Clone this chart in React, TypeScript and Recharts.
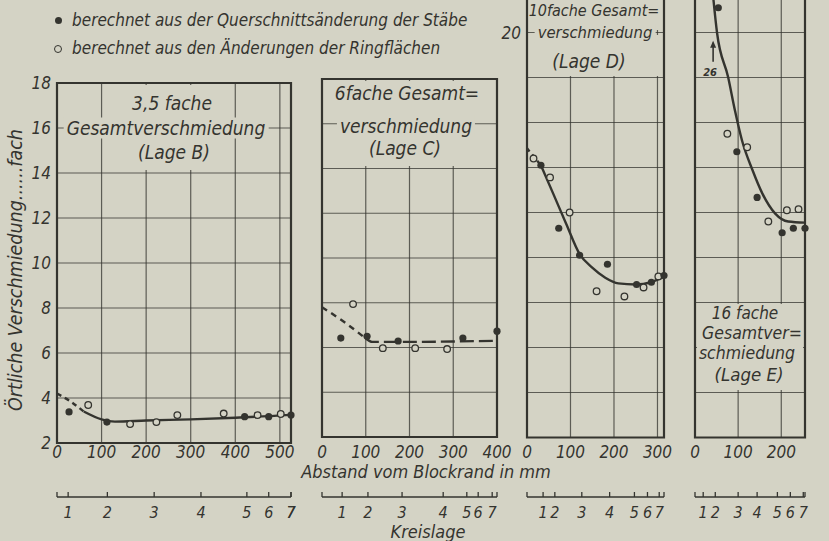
import React from "react";
import {
  CartesianGrid,
  ComposedChart,
  Line,
  ReferenceArea,
  ReferenceDot,
  ReferenceLine,
  Scatter,
  XAxis,
  YAxis,
} from "recharts";

type Pt = [number, number];

const BG = "#d4d3c5";
const INK = "#34342f";
const FONT = "'Liberation Sans Narrow', 'DejaVu Sans Condensed', sans-serif";

// Lage B – 3,5fache Gesamtverschmiedung (Abstand mm, Verschmiedung fach)
const bVoll: Pt[] = [[27, 3.38], [112, 2.93], [421, 3.17], [475, 3.17], [525, 3.24]];
const bOffen: Pt[] = [[70, 3.69], [164, 2.84], [223, 2.93], [270, 3.24], [374, 3.31], [450, 3.24], [502, 3.29]];
const bKurveAnfang: Pt[] = [[0, 4.2], [30, 3.85], [60, 3.4]];
const bKurve: Pt[] = [[60, 3.4], [100, 3.05], [130, 2.95], [200, 3.0], [300, 3.05], [400, 3.12], [525, 3.25]];
const bKreis = [25, 113, 218, 323, 426, 475, 525];

// Lage C – 6fache
const cVoll: Pt[] = [[43, 6.42], [103, 6.5], [174, 6.29], [322, 6.42], [400, 6.73]];
const cOffen: Pt[] = [[71, 7.94], [139, 5.97], [213, 5.97], [286, 5.93]];
const cKurveAnfang: Pt[] = [[0, 7.8], [50, 7.15], [100, 6.4]];
const cKurve: Pt[] = [[100, 6.4], [115, 6.25], [200, 6.25], [300, 6.27], [400, 6.3]];
const cKreis = [46, 105, 183, 277, 331, 357, 389];

// Lage D – 10fache
const dVoll: Pt[] = [[32, 14.1], [73, 11.3], [121, 10.1], [185, 9.7], [252, 8.8], [286, 8.9], [315, 9.2]];
const dOffen: Pt[] = [[15, 14.4], [53, 13.56], [98, 12.0], [160, 8.5], [224, 8.27], [268, 8.67], [302, 9.16]];
const dKurveAnfang: Pt[] = [[0, 14.85], [32, 14.1]];
const dKurve: Pt[] = [[32, 14.1], [60, 12.85], [90, 11.5], [121, 10.15], [150, 9.55], [180, 9.1], [210, 8.85], [250, 8.8], [285, 8.9], [315, 9.15]];
const dKreis = [37, 64, 126, 190, 247, 277, 304];

// Lage E – 16fache
const eVoll: Pt[] = [[54, 21.1], [97, 14.7], [144, 12.67], [202, 11.1], [228, 11.3], [255, 11.3]];
const eOffen: Pt[] = [[75, 15.5], [121, 14.9], [170, 11.6], [213, 12.1], [240, 12.15]];
const eKurve: Pt[] = [[40, 22], [51, 20], [77, 18], [93, 16.5], [109, 15.2], [133, 13.9], [156, 12.85], [186, 11.95], [216, 11.6], [255, 11.55]];
const eKreis = [19, 47, 100, 144, 191, 221, 251];
const ePfeil: Pt[] = [[42, 18.7], [42, 19.55]];
const ePfeilWert = 26;

const yTicksKurz = [2, 4, 6, 8, 10, 12, 14, 16, 18];
const yTicksLang = [2, 4, 6, 8, 10, 12, 14, 16, 18, 20];

const pts = (a: Pt[]) => a.map(([x, y]) => ({ x, y }));

const Voll = (p: any) => <circle cx={p.cx} cy={p.cy} r={3.6} fill={INK} />;
const Offen = (p: any) => (
  <circle cx={p.cx} cy={p.cy} r={3.3} fill={BG} stroke={INK} strokeWidth={1.3} />
);

function KreisTick(props: any) {
  const { x, y, payload, pos } = props;
  const i = pos.indexOf(payload.value);
  return (
    <g>
      <line x1={x} y1={y} x2={x} y2={y - 5} stroke={INK} strokeWidth={1.3} />
      {i >= 0 && (
        <text x={x} y={y + 21} textAnchor="middle" fill={INK} fontSize={16} fontStyle="italic" fontFamily={FONT}>
          {i + 1}
        </text>
      )}
    </g>
  );
}

type PanelProps = {
  left: number;
  right: number;
  top: number;
  bottom: number;
  xMax: number;
  yMax: number;
  xTicks: number[];
  yTicks: number[];
  yWidth: number;
  yLabel: (v: number) => string;
  kreis: number[];
  children: React.ReactNode;
};

const KREIS_Y = 497;
const SHIFT = 20;

function Panel({ left, right, top, bottom, xMax, yMax, xTicks, yTicks, yWidth, yLabel, kreis, children }: PanelProps) {
  const mainH = KREIS_Y - bottom;
  const tickStyle = { fill: INK, fontSize: 17, fontStyle: "italic", fontFamily: FONT };
  const kreisTicks = [0, ...kreis, xMax];
  return (
    <div style={{ position: "absolute", left: 0, top: -SHIFT }}>
      <ComposedChart
        width={829}
        height={541 + SHIFT}
        margin={{ left: left - yWidth, right: 829 - right, top: top + SHIFT, bottom: 541 - KREIS_Y - 30 }}
      >
        <CartesianGrid stroke={INK} strokeOpacity={0.75} strokeWidth={1.2} />
        <XAxis
          dataKey="x"
          type="number"
          domain={[0, xMax]}
          ticks={xTicks}
          interval={0}
          height={mainH}
          tickSize={0}
          tickMargin={446 - bottom}
          axisLine={false}
          tickLine={false}
          tick={tickStyle}
        />
        <XAxis
          xAxisId="k"
          dataKey="x"
          type="number"
          domain={[0, xMax]}
          ticks={kreisTicks}
          interval={0}
          height={30}
          tickSize={0}
          tickMargin={0}
          allowDataOverflow
          axisLine={{ stroke: INK, strokeWidth: 1.5 }}
          tickLine={false}
          tick={<KreisTick pos={kreis} />}
        />
        <YAxis
          type="number"
          domain={[2, yMax]}
          ticks={yTicks}
          interval={0}
          width={yWidth}
          tickSize={0}
          tickMargin={6}
          axisLine={false}
          tickLine={false}
          tick={tickStyle}
          tickFormatter={yLabel}
        />
        {/* Kreislage-Skala: unsichtbare Reihe, damit die Achse ihre Teilung erhält */}
        <Line
          xAxisId="k"
          data={kreisTicks.map((x) => ({ x, y: 2 }))}
          dataKey="y"
          stroke="none"
          dot={false}
          activeDot={false}
          isAnimationActive={false}
        />
        {children}
        <ReferenceArea x1={0} x2={xMax} y1={2} y2={yMax} fill="none" stroke={INK} strokeWidth={2.2} ifOverflow="visible" />
      </ComposedChart>
    </div>
  );
}

function Kurve({ data, dash }: { data: Pt[]; dash?: string }) {
  return (
    <Line
      data={pts(data)}
      dataKey="y"
      type="monotone"
      stroke={INK}
      strokeWidth={2.4}
      strokeDasharray={dash}
      dot={false}
      activeDot={false}
      isAnimationActive={false}
    />
  );
}

function Punkte({ voll, offen }: { voll: Pt[]; offen: Pt[] }) {
  return (
    <>
      <Scatter data={pts(offen)} dataKey="y" shape={Offen} isAnimationActive={false} />
      <Scatter data={pts(voll)} dataKey="y" shape={Voll} isAnimationActive={false} />
    </>
  );
}

function Txt({ x, y, size = 19, bg, children }: { x: number; y: number; size?: number; bg?: boolean; children: React.ReactNode }) {
  return (
    <div
      style={{
        position: "absolute",
        left: x,
        top: y,
        transform: "translate(-50%, -50%)",
        fontSize: size,
        fontStyle: "italic",
        whiteSpace: "nowrap",
        lineHeight: 1,
        color: INK,
        background: bg ? BG : "transparent",
        padding: bg ? "1px 3px" : 0,
      }}
    >
      {children}
    </div>
  );
}

function Box({ x, y, w, h }: { x: number; y: number; w: number; h: number }) {
  return <div style={{ position: "absolute", left: x, top: y, width: w, height: h, background: BG }} />;
}

export default function App() {
  return (
    <div
      style={{
        position: "absolute",
        left: 0,
        top: 0,
        width: 829,
        height: 541,
        background: BG,
        overflow: "hidden",
        fontFamily: FONT,
        color: INK,
      }}
    >
      <Panel left={57} right={291} top={83} bottom={443} xMax={525} yMax={18}
        xTicks={[0, 100, 200, 300, 400, 500]} yTicks={yTicksKurz} yWidth={40}
        yLabel={(v) => String(v)} kreis={bKreis}>
        <Kurve data={bKurveAnfang} dash="5 4" />
        <Kurve data={bKurve} />
        <Punkte voll={bVoll} offen={bOffen} />
      </Panel>

      <Panel left={322} right={497} top={79} bottom={437} xMax={400} yMax={18}
        xTicks={[0, 100, 200, 300, 400]} yTicks={yTicksKurz} yWidth={0}
        yLabel={() => ""} kreis={cKreis}>
        <Kurve data={cKurveAnfang} dash="6 5" />
        <Kurve data={cKurve} dash="14 5" />
        <Punkte voll={cVoll} offen={cOffen} />
      </Panel>

      <Panel left={527} right={664} top={-12.5} bottom={437.5} xMax={315} yMax={22}
        xTicks={[0, 100, 200, 300]} yTicks={yTicksLang} yWidth={30}
        yLabel={(v) => (v === 20 ? "20" : "")} kreis={dKreis}>
        <Kurve data={dKurveAnfang} dash="4 4" />
        <Kurve data={dKurve} />
        <Punkte voll={dVoll} offen={dOffen} />
      </Panel>

      <Panel left={695} right={805} top={-12.5} bottom={437.5} xMax={255} yMax={22}
        xTicks={[0, 100, 200]} yTicks={yTicksLang} yWidth={0}
        yLabel={() => ""} kreis={eKreis}>
        <Kurve data={eKurve} />
        <Punkte voll={eVoll} offen={eOffen} />
        <ReferenceLine
          segment={pts(ePfeil)}
          stroke={INK}
          strokeWidth={1.6}
          ifOverflow="visible"
        />
        <ReferenceDot
          x={ePfeil[1][0]}
          y={ePfeil[1][1]}
          ifOverflow="visible"
          shape={(p: any) => (
            <path d={`M${p.cx - 3},${p.cy + 5} L${p.cx},${p.cy - 2} L${p.cx + 3},${p.cy + 5} Z`} fill={INK} />
          )}
        />
        <ReferenceDot
          x={35}
          y={18.25}
          ifOverflow="visible"
          shape={(p: any) => (
            <text x={p.cx} y={p.cy + 4} textAnchor="middle" fontSize={11} fontWeight="bold" fontStyle="italic" fill={INK} fontFamily={FONT}>
              {ePfeilWert}
            </text>
          )}
        />
      </Panel>

      {/* Titelfelder */}
      <Box x={108} y={85} w={122} h={85} />
      <Txt x={172} y={103}>3,5 fache</Txt>
      <Txt x={166} y={128} bg>Gesamtverschmiedung</Txt>
      <Txt x={174} y={152}>(Lage B)</Txt>

      <Box x={324} y={81} w={171} h={40} />
      <Box x={324} y={127} w={171} h={39} />
      <Txt x={407} y={93}>6fache Gesamt=</Txt>
      <Txt x={406} y={126} bg>verschmiedung</Txt>
      <Txt x={405} y={148}>(Lage C)</Txt>

      <Box x={529} y={0} w={133} h={30} />
      <Box x={529} y={35} w={133} h={41} />
      <Txt x={594} y={11} size={16}>10fache Gesamt=</Txt>
      <Txt x={595} y={33} size={16.5} bg>verschmiedung</Txt>
      <Txt x={589} y={61} size={19}>(Lage D)</Txt>

      <Box x={697} y={304} w={106} h={86} />
      <Txt x={745} y={313} size={17}>16 fache</Txt>
      <Txt x={752} y={334} size={17.5}>Gesamtver=</Txt>
      <Txt x={747} y={354} size={17.5}>schmiedung</Txt>
      <Txt x={749} y={375} size={18.5}>(Lage E)</Txt>

      {/* Legende */}
      <div style={{ position: "absolute", left: 55, top: 17, width: 7, height: 7, borderRadius: "50%", background: INK }} />
      <div style={{ position: "absolute", left: 54, top: 45, width: 6, height: 6, borderRadius: "50%", border: `1.3px solid ${INK}` }} />
      <div style={{ position: "absolute", left: 72, top: 12, fontSize: 17, fontStyle: "italic", whiteSpace: "nowrap", lineHeight: 1 }}>
        berechnet aus der Querschnittsänderung der Stäbe
      </div>
      <div style={{ position: "absolute", left: 72, top: 40, fontSize: 17, fontStyle: "italic", whiteSpace: "nowrap", lineHeight: 1 }}>
        berechnet aus den Änderungen der Ringflächen
      </div>

      {/* Achsentitel */}
      <div
        style={{
          position: "absolute",
          left: 16 - 170,
          top: 270 - 11,
          width: 340,
          height: 22,
          lineHeight: "22px",
          textAlign: "center",
          transform: "rotate(-90deg)",
          fontSize: 19.5,
          fontStyle: "italic",
          whiteSpace: "nowrap",
        }}
      >
        Örtliche Verschmiedung......fach
      </div>
      <Txt x={426} y={472} size={18}>Abstand vom Blockrand in mm</Txt>
      <Txt x={428} y={532} size={18}>Kreislage</Txt>
    </div>
  );
}
